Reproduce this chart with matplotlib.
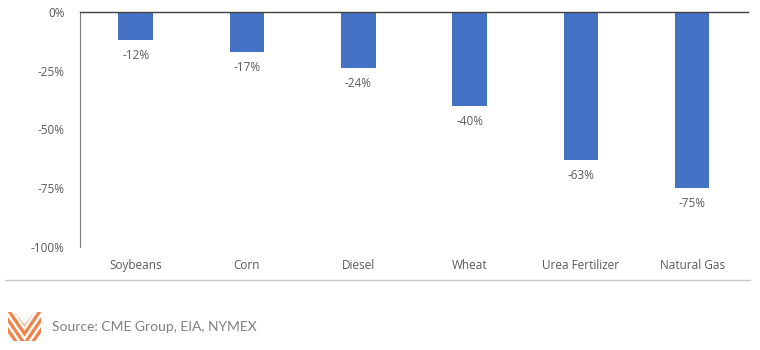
import numpy as np
import matplotlib
matplotlib.use("Agg")
from matplotlib import pyplot as plt
from matplotlib.patches import Polygon, Rectangle

categories = ["Soybeans", "Corn", "Diesel", "Wheat", "Urea Fertilizer", "Natural Gas"]
changes = [-12, -17, -24, -40, -63, -75]
yticks = [0, -25, -50, -75, -100]
source = "Source: CME Group, EIA, NYMEX"

plt.rcParams['font.family'] = ['Open Sans', 'DejaVu Sans']

fig = plt.figure(figsize=(7.6, 3.5), dpi=100)
ax = fig.add_axes([0.1053, 0.2943, 0.8787, 0.6714])

x = np.arange(len(categories))
ax.bar(x, changes, width=0.31, color="#4472C4")
for xi, v in zip(x, changes):
    ax.annotate(f"{v}%", (xi, v), xytext=(0, -6.5), textcoords="offset points",
                ha="center", va="top", fontsize=8.5, color="#595959")

ax.set_xlim(-0.5, len(categories) - 0.5)
ax.set_ylim(-100, 0)
ax.set_yticks(yticks)
ax.set_yticklabels([f"{t}%" for t in yticks], fontsize=8.5, color="#595959")
ax.set_xticks(x)
ax.set_xticklabels(categories, fontsize=8.5, color="#595959")
ax.tick_params(axis="both", length=0)
ax.tick_params(axis="x", pad=9)
ax.tick_params(axis="y", pad=11)

ax.spines["right"].set_visible(False)
ax.spines["bottom"].set_visible(False)
ax.spines["top"].set_color("#404040")
ax.spines["top"].set_linewidth(1.0)
ax.spines["left"].set_color("#7f7f7f")
ax.spines["left"].set_linewidth(0.8)

# grey separator line
fig.add_artist(plt.Line2D([5 / 760, 750 / 760], [1 - 280 / 350, 1 - 280 / 350],
                          color="#c8c8c8", linewidth=1.0))

# logo: stacked orange chevrons
lax = fig.add_axes([8 / 760, 1 - 341 / 350, 33 / 760, 29 / 350])
lax.set_xlim(0, 1)
lax.set_ylim(0, 1)
lax.axis("off")
clip = Polygon([(0, 0), (1, 0), (1, 1), (0.8, 1), (0.5, 0.55), (0.2, 1), (0, 1)],
               closed=True, transform=lax.transData)
orange = "#F0834A"
for off in [-0.55, -0.2, 0.15, 0.5]:
    t = 0.2
    pts = [(-0.1, 1.0 + off), (0.5, off), (1.1, 1.0 + off),
           (1.1, 1.0 + off + t), (0.5, off + t), (-0.1, 1.0 + off + t)]
    p = Polygon(pts, closed=True, color=orange, lw=0)
    lax.add_patch(p)
    p.set_clip_path(clip)

fig.text(52 / 760, 1 - 327 / 350, source, fontsize=10, color="#808080",
         ha="left", va="center", fontfamily="Lato")

fig.savefig("out.png", dpi=100)
